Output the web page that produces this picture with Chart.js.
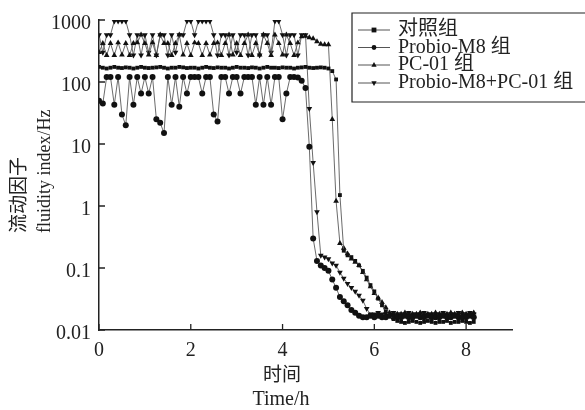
<!DOCTYPE html>
<html>
<head>
<meta charset="utf-8">
<script src="https://cdn.jsdelivr.net/npm/chart.js@4"></script>
<style>
  html, body { margin: 0; padding: 0; background: #fff; }
  #wrap { width: 585px; height: 410px; }
</style>
</head>
<body>
<div id="wrap"><canvas id="chartFluidity" width="585" height="410"></canvas></div>
<script>
// sampling times (min)
const minutes = [
  0, 5, 10, 15, 20, 25, 30, 35, 40, 45, 50, 55,
  60, 65, 70, 75, 80, 85, 90, 95, 100, 105, 110, 115,
  120, 125, 130, 135, 140, 145, 150, 155, 160, 165, 170, 175,
  180, 185, 190, 195, 200, 205, 210, 215, 220, 225, 230, 235,
  240, 245, 250, 255, 260, 265, 270, 275, 280, 285, 290, 295,
  300, 305, 310, 315, 320, 325, 330, 335, 340, 345, 350, 355,
  360, 365, 370, 375, 380, 385, 390, 395, 400, 405, 410, 415,
  420, 425, 430, 435, 440, 445, 450, 455, 460, 465, 470, 475,
  480, 485, 490
];

// 对照组
const control = [
  175, 170, 165, 170, 175, 170, 168, 172, 170, 165, 170, 175,
  170, 168, 170, 172, 175, 170, 165, 170, 170, 175, 172, 168,
  170, 170, 165, 170, 175, 170, 168, 172, 170, 170, 165, 170,
  175, 170, 170, 168, 172, 170, 165, 170, 175, 170, 170, 168,
  172, 170, 170, 165, 170, 172, 175, 170, 168, 170, 172, 170,
  165, 150, 110, 1.5, 0.19, 0.16, 0.15, 0.13, 0.11, 0.09, 0.07, 0.053,
  0.042, 0.032, 0.025, 0.02, 0.017, 0.015, 0.014, 0.0135, 0.013, 0.0135, 0.014, 0.0135,
  0.013, 0.0135, 0.014, 0.0135, 0.013, 0.0135, 0.0135, 0.014, 0.013, 0.0135, 0.0135, 0.014,
  0.0135, 0.013, 0.0135
];

// Probio-M8 组
const probio = [
  50, 45, 120, 120, 43, 120, 30, 20, 120, 43, 120, 65,
  120, 65, 120, 25, 22, 15, 120, 43, 120, 40, 120, 65,
  120, 120, 120, 65, 120, 120, 30, 23, 120, 120, 65, 120,
  120, 65, 120, 120, 120, 43, 120, 43, 120, 43, 120, 120,
  25, 65, 120, 120, 118, 105, 80, 9, 0.3, 0.13, 0.11, 0.1,
  0.09, 0.065, 0.048, 0.034, 0.029, 0.025, 0.021, 0.019, 0.017, 0.016, 0.016, 0.017,
  0.016, 0.017, 0.016, 0.016, 0.017, 0.016, 0.016, 0.016, 0.017, 0.016, 0.016, 0.017,
  0.016, 0.016, 0.017, 0.016, 0.016, 0.016, 0.017, 0.016, 0.016, 0.017, 0.016, 0.016,
  0.016, 0.017, 0.016
];

// PC-01 组
const pc01 = [
  300, 420, 270, 420, 270, 430, 275, 420, 270, 420, 430, 575,
  420, 275, 430, 270, 575, 420, 420, 270, 420, 575, 275, 420,
  270, 430, 420, 270, 420, 275, 420, 430, 270, 420, 575, 275,
  420, 270, 420, 575, 270, 420, 275, 575, 420, 270, 575, 420,
  275, 575, 420, 270, 430, 540, 550, 520, 500, 450, 410, 400,
  400, 25, 1.2, 0.25, 0.21, 0.17, 0.14, 0.125, 0.11, 0.085, 0.065, 0.05,
  0.039, 0.033, 0.028, 0.023, 0.019, 0.018, 0.018, 0.018, 0.019, 0.018, 0.018, 0.018,
  0.019, 0.018, 0.018, 0.018, 0.019, 0.018, 0.018, 0.018, 0.019, 0.018, 0.018, 0.019,
  0.018, 0.018, 0.019
];

// Probio-M8+PC-01 组
const combo = [
  575, 300, 575, 575, 960, 960, 960, 960, 575, 270, 575, 270,
  575, 300, 575, 270, 575, 575, 270, 575, 300, 575, 575, 960,
  960, 575, 960, 960, 960, 960, 575, 270, 575, 575, 270, 575,
  300, 575, 575, 270, 575, 575, 270, 575, 575, 300, 960, 960,
  575, 270, 575, 575, 270, 575, 575, 37, 5, 0.8, 0.16, 0.15,
  0.14, 0.12, 0.11, 0.085, 0.068, 0.056, 0.048, 0.042, 0.036, 0.03, 0.022, 0.018,
  0.018, 0.019, 0.018, 0.018, 0.018, 0.019, 0.018, 0.018, 0.018, 0.019, 0.018, 0.018,
  0.018, 0.019, 0.018, 0.018, 0.018, 0.018, 0.019, 0.018, 0.018, 0.018, 0.019, 0.018,
  0.018, 0.019, 0.018
];

const seriesNames = ['对照组', 'Probio-M8 组', 'PC-01 组', 'Probio-M8+PC-01 组'];
const xTicks = [0, 2, 4, 6, 8];
const yTicks = [0.01, 0.1, 1, 10, 100, 1000];

const serif = "'Liberation Serif', 'Times New Roman', 'Noto Sans CJK SC', serif";
const markerStyles = ['rect', 'circle', 'triangle', 'triangle'];
const markerRot = [0, 0, 0, 180];
const markerSize = [2.7, 3, 3.3, 3.3];

function toPoints(vals) {
  return vals.map((v, i) => ({ x: minutes[i] / 60, y: v }));
}

const datasets = [control, probio, pc01, combo].map((vals, k) => ({
  label: seriesNames[k],
  data: toPoints(vals),
  borderColor: '#5a5a5a',
  borderWidth: 0.9,
  pointStyle: markerStyles[k],
  rotation: markerRot[k],
  pointRadius: markerSize[k],
  pointBackgroundColor: '#111',
  pointBorderColor: '#111',
  pointBorderWidth: 0,
  tension: 0,
}));

function drawMarker(ctx, style, x, y, r, rot) {
  ctx.beginPath();
  if (style === 'rect') {
    ctx.rect(x - r, y - r, r * 2, r * 2);
  } else if (style === 'circle') {
    ctx.arc(x, y, r, 0, Math.PI * 2);
  } else {
    const s = rot ? -1 : 1;
    ctx.moveTo(x, y - s * r * 1.2);
    ctx.lineTo(x + r * 1.1, y + s * r * 0.7);
    ctx.lineTo(x - r * 1.1, y + s * r * 0.7);
    ctx.closePath();
  }
  ctx.fill();
}

const decor = {
  id: 'decor',
  afterDraw(chart) {
    const ctx = chart.ctx;
    const xs = chart.scales.x;
    const ys = chart.scales.y;
    ctx.save();

    // inward ticks
    ctx.strokeStyle = '#222';
    ctx.lineWidth = 1.3;
    ctx.beginPath();
    xTicks.forEach(v => {
      const px = xs.getPixelForValue(v);
      ctx.moveTo(px, ys.bottom);
      ctx.lineTo(px, ys.bottom - 6);
    });
    yTicks.forEach(v => {
      const py = ys.getPixelForValue(v);
      ctx.moveTo(xs.left, py);
      ctx.lineTo(xs.left + 6, py);
    });
    ctx.stroke();

    // axis titles
    ctx.fillStyle = '#222';
    ctx.textBaseline = 'middle';
    ctx.textAlign = 'center';
    ctx.font = '19px ' + serif;
    ctx.fillText('时间', 282, 376);
    ctx.font = '20px ' + serif;
    ctx.fillText('Time/h', 281, 400);

    ctx.save();
    ctx.translate(20, 233);
    ctx.rotate(-Math.PI / 2);
    ctx.textAlign = 'left';
    ctx.font = '19px ' + serif;
    ctx.fillText('流动因子', 0, 0);
    ctx.restore();

    ctx.save();
    ctx.translate(45, 233);
    ctx.rotate(-Math.PI / 2);
    ctx.textAlign = 'left';
    ctx.font = '18px ' + serif;
    ctx.fillText('fluidity index/Hz', 0, 0);
    ctx.restore();

    // legend box (runs off the right edge)
    ctx.strokeStyle = '#222';
    ctx.lineWidth = 1.2;
    ctx.beginPath();
    ctx.moveTo(700, 13);
    ctx.lineTo(352, 13);
    ctx.lineTo(352, 102);
    ctx.lineTo(700, 102);
    ctx.stroke();
    const rows = [30, 47.5, 65, 83];
    ctx.font = '20px ' + serif;
    ctx.textAlign = 'left';
    seriesNames.forEach((name, k) => {
      const y = rows[k];
      ctx.strokeStyle = '#555';
      ctx.lineWidth = 1;
      ctx.beginPath();
      ctx.moveTo(358, y);
      ctx.lineTo(390, y);
      ctx.stroke();
      ctx.fillStyle = '#111';
      drawMarker(ctx, markerStyles[k], 374, y, 2.4, markerRot[k]);
      ctx.fillStyle = '#222';
      ctx.fillText(name, 398, y);
    });

    ctx.restore();
  }
};

new Chart(document.getElementById('chartFluidity'), {
  type: 'line',
  data: { datasets: datasets },
  options: {
    responsive: false,
    animation: false,
    layout: { padding: { left: 0, right: 73, top: 15, bottom: 0 } },
    plugins: { legend: { display: false }, tooltip: { enabled: false } },
    scales: {
      x: {
        type: 'linear',
        min: 0,
        max: 9,
        afterBuildTicks: s => { s.ticks = xTicks.map(v => ({ value: v })); },
        afterFit: s => { s.height = 80; },
        grid: { display: false, drawTicks: false },
        border: { display: true, color: '#222', width: 1.5 },
        ticks: { padding: 9, color: '#222', font: { family: serif, size: 20 } },
      },
      y: {
        type: 'logarithmic',
        min: 0.01,
        max: 1000,
        afterBuildTicks: s => { s.ticks = yTicks.map(v => ({ value: v })); },
        afterFit: s => { s.width = 99; },
        grid: { display: false, drawTicks: false },
        border: { display: true, color: '#222', width: 1.5 },
        ticks: {
          padding: 8,
          labelOffset: 4,
          color: '#222',
          font: { family: serif, size: 20 },
          callback: v => String(v),
        },
      },
    },
  },
  plugins: [decor],
});
</script>
</body>
</html>
